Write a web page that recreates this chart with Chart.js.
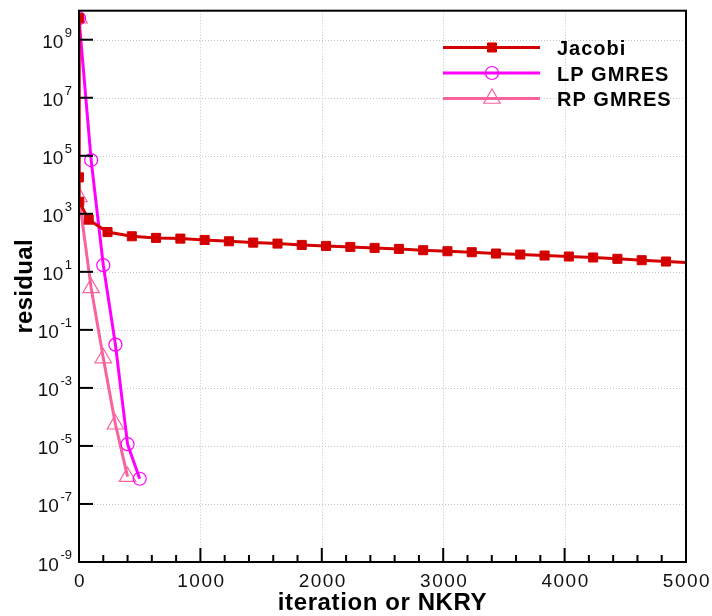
<!DOCTYPE html>
<html>
<head>
<meta charset="utf-8">
<script src="https://cdn.jsdelivr.net/npm/chart.js@4"></script>
<style>
  html, body { margin: 0; padding: 0; background: #fff; }
  #wrap { width: 712px; height: 616px; }
</style>
</head>
<body>
<div id="wrap"><canvas id="res-chart" width="712" height="616"></canvas></div>
<script>
// data
var jacobiIter = [0, 0, 2, 80, 235, 435, 635, 835, 1035, 1235, 1435, 1635, 1835, 2035, 2235, 2435, 2635, 2835, 3035, 3235, 3435, 3635, 3835, 4035, 4235, 4435, 4635, 4835, 5000];
var jacobiRes = [5.5e9, 1.8e4, 2.6e3, 630, 235, 168, 148, 139.7, 125.7, 113, 101.8, 94.1, 84.7, 78.2, 72.3, 66.8, 61.8, 55.6, 51.4, 47.5, 42.7, 39.5, 36.5, 33.7, 31.2, 28.1, 25.2, 22.7, 21];

var lpIter = [0, 100, 200, 300, 400, 500];
var lpRes = [5.5e9, 7.1e4, 17, 0.031, 1.15e-5, 7.4e-7];

var rpIter = [0, 0, 100, 200, 300, 400];
var rpRes = [5.5e9, 3.8e3, 2.8, 0.0107, 5.6e-5, 8.7e-7];

var xTicks = [0, 1000, 2000, 3000, 4000, 5000];
var yExponents = [-9, -7, -5, -3, -1, 1, 3, 5, 7, 9];

var seriesNames = ['Jacobi', 'LP GMRES', 'RP GMRES'];

var FONT = '"Liberation Sans", Arial, sans-serif';

function pairs(xs, ys) {
    return xs.map(function(x, i) { return { x: x, y: ys[i] }; });
}

// grid, frame, ticks, tick labels, axis titles and legend
var decorPlugin = {
    id: 'decor',
    beforeDatasetsDraw: function(chart) {
        var ctx = chart.ctx, a = chart.chartArea;
        var xs = chart.scales.x, ys = chart.scales.y;
        ctx.save();
        ctx.strokeStyle = '#c4c4c4';
        ctx.lineWidth = 1;
        ctx.setLineDash([1, 2]);
        xs.ticks.forEach(function(t) {
            var px = Math.round(xs.getPixelForValue(t.value)) + 0.5;
            ctx.beginPath(); ctx.moveTo(px, a.top); ctx.lineTo(px, a.bottom); ctx.stroke();
        });
        ys.ticks.forEach(function(t) {
            var py = Math.round(ys.getPixelForValue(t.value)) + 0.5;
            ctx.beginPath(); ctx.moveTo(a.left, py); ctx.lineTo(a.right, py); ctx.stroke();
        });
        ctx.restore();
    },
    afterDraw: function(chart) {
        var ctx = chart.ctx, a = chart.chartArea;
        var xs = chart.scales.x, ys = chart.scales.y;
        ctx.save();
        ctx.setLineDash([]);
        ctx.strokeStyle = '#000';
        ctx.lineWidth = 2;
        ctx.strokeRect(a.left, a.top, a.right - a.left, a.bottom - a.top);

        // x ticks: major every 1000, minor every 200, drawn inside
        for (var v = 0; v <= 5000; v += 200) {
            var px = xs.getPixelForValue(v);
            var len = (v % 1000 === 0) ? 14 : 7;
            ctx.beginPath(); ctx.moveTo(px, a.bottom); ctx.lineTo(px, a.bottom - len); ctx.stroke();
        }
        // y ticks inside
        ys.ticks.forEach(function(t) {
            var py = ys.getPixelForValue(t.value);
            ctx.beginPath(); ctx.moveTo(a.left, py); ctx.lineTo(a.left + 14, py); ctx.stroke();
        });

        ctx.fillStyle = '#111';
        // x tick labels
        ctx.font = '19px ' + FONT;
        ctx.letterSpacing = '1.5px';
        ctx.textAlign = 'center';
        ctx.textBaseline = 'alphabetic';
        xs.ticks.forEach(function(t) {
            ctx.fillText(String(t.value), xs.getPixelForValue(t.value) + 1, 587);
        });

        // y tick labels: 10 with superscript exponent
        ctx.letterSpacing = '0px';
        yExponents.forEach(function(e) {
            var py = ys.getPixelForValue(Math.pow(10, e));
            var expText = String(e).replace('-', '-');
            ctx.font = '13px ' + FONT;
            ctx.textAlign = 'right';
            ctx.fillText(expText, 72, py - 3);
            var ew = ctx.measureText(expText).width;
            ctx.font = '19px ' + FONT;
            ctx.fillText('10', 72 - ew - 1.5, py + 8.5);
        });

        // axis titles
        ctx.fillStyle = '#000';
        ctx.font = 'bold 24px ' + FONT;
        ctx.letterSpacing = '0.6px';
        ctx.textAlign = 'center';
        ctx.fillText('iteration or NKRY', (a.left + a.right) / 2, 610);
        ctx.save();
        ctx.translate(32, (a.top + a.bottom) / 2);
        ctx.rotate(-Math.PI / 2);
        ctx.letterSpacing = '0.3px';
        ctx.fillText('residual', 0, 0);
        ctx.restore();

        // legend inside the plot, top right
        var rows = [47.5, 73, 98.5];
        chart.data.datasets.forEach(function(ds, i) {
            var y = rows[i];
            ctx.strokeStyle = ds.borderColor;
            ctx.lineWidth = ds.borderWidth;
            ctx.beginPath(); ctx.moveTo(443, y); ctx.lineTo(540, y); ctx.stroke();
            ctx.fillStyle = ds.pointBackgroundColor;
            ctx.strokeStyle = ds.pointBorderColor;
            ctx.lineWidth = ds.pointBorderWidth;
            Chart.helpers.drawPoint(ctx, {
                pointStyle: ds.pointStyle,
                radius: ds.legendRadius,
                rotation: 0,
                borderWidth: ds.pointBorderWidth
            }, 492, y);
            ctx.fillStyle = '#000';
            ctx.font = 'bold 20px ' + FONT;
            ctx.letterSpacing = '1px';
            ctx.textAlign = 'left';
            ctx.fillText(ds.label, 557, y + 7.5);
        });
        ctx.restore();
    }
};

var ctx = document.getElementById('res-chart').getContext('2d');
var chart = new Chart(ctx, {
    type: 'line',
    data: {
        datasets: [{
            label: seriesNames[0],
            data: pairs(jacobiIter, jacobiRes),
            borderColor: '#d40000',
            borderWidth: 3,
            pointStyle: 'rect',
            pointRadius: function(c) { return c.dataIndex === jacobiIter.length - 1 ? 0 : 6.4; },
            legendRadius: 6.4,
            pointBackgroundColor: '#d40000',
            pointBorderColor: '#d40000',
            pointBorderWidth: 1
        }, {
            label: seriesNames[1],
            data: pairs(lpIter, lpRes),
            borderColor: '#ff00ff',
            borderWidth: 3,
            pointStyle: 'circle',
            pointRadius: 6.5,
            legendRadius: 6.5,
            pointBackgroundColor: 'rgba(0,0,0,0)',
            pointBorderColor: '#ff00ff',
            pointBorderWidth: 1.2
        }, {
            label: seriesNames[2],
            data: pairs(rpIter, rpRes),
            borderColor: '#f7629f',
            borderWidth: 3,
            pointStyle: 'triangle',
            pointRadius: 9.5,
            legendRadius: 9.5,
            pointBackgroundColor: 'rgba(0,0,0,0)',
            pointBorderColor: '#f7629f',
            pointBorderWidth: 1.2
        }]
    },
    options: {
        responsive: false,
        animation: false,
        events: [],
        layout: { padding: { top: 8, right: 26, left: 0, bottom: 0 } },
        elements: { line: { tension: 0 } },
        plugins: { legend: { display: false }, tooltip: { enabled: false } },
        scales: {
            x: {
                type: 'linear',
                min: 0,
                max: 5000,
                ticks: { display: false, stepSize: 1000 },
                grid: { display: false },
                border: { display: false },
                afterBuildTicks: function(s) { s.ticks = xTicks.map(function(v) { return { value: v }; }); },
                afterFit: function(s) { s.height = 54; }
            },
            y: {
                type: 'logarithmic',
                min: 1e-9,
                max: 1e10,
                ticks: { display: false },
                grid: { display: false },
                border: { display: false },
                afterBuildTicks: function(s) { s.ticks = yExponents.map(function(e) { return { value: Math.pow(10, e) }; }); },
                afterFit: function(s) { s.width = 79; }
            }
        }
    },
    plugins: [decorPlugin]
});
</script>
</body>
</html>
